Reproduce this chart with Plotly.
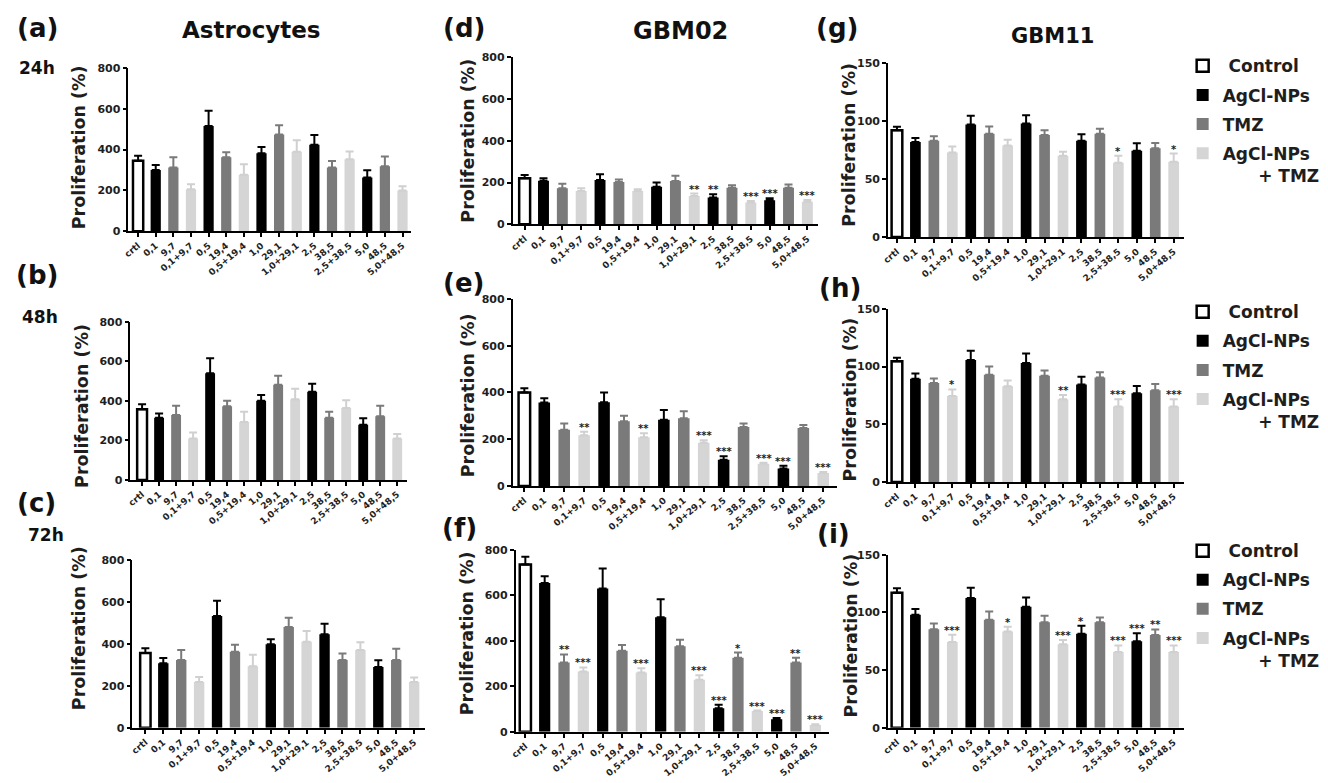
import plotly.graph_objects as go

W, H = 1328, 783

categories = ["crtl", "0,1", "9,7", "0,1+9,7", "0,5", "19,4", "0,5+19,4", "1,0",
              "29,1", "1,0+29,1", "2,5", "38,5", "2,5+38,5", "5,0", "48,5", "5,0+48,5"]
series_names = ["\u00a0Control", "AgCl-NPs", "TMZ",
                "AgCl-NPs<br>\u00a0\u00a0\u00a0\u00a0\u00a0\u00a0+ TMZ"]
series_of_category = [0, 1, 2, 3, 1, 2, 3, 1, 2, 3, 1, 2, 3, 1, 2, 3]

astro_24h_mean = [345, 300, 312, 205, 515, 362, 276, 382, 474, 389, 424, 312, 353, 263, 318, 200]
astro_24h_err = [25, 25, 50, 25, 75, 25, 52, 30, 45, 57, 47, 32, 37, 36, 48, 20]
astro_48h_mean = [357, 314, 329, 210, 540, 372, 293, 400, 481, 408, 446, 314, 364, 279, 322, 210]
astro_48h_err = [26, 22, 46, 30, 75, 28, 52, 30, 46, 53, 40, 31, 39, 33, 53, 23]
astro_72h_mean = [356, 307, 323, 218, 532, 362, 293, 398, 479, 410, 445, 323, 370, 289, 323, 218]
astro_72h_err = [23, 25, 47, 24, 73, 33, 55, 23, 45, 50, 50, 30, 37, 32, 53, 21]

gbm02_24h_mean = [220, 209, 172, 160, 212, 203, 160, 180, 207, 135, 128, 175, 105, 115, 175, 108]
gbm02_24h_err = [16, 11, 22, 12, 28, 12, 8, 20, 25, 12, 16, 12, 6, 10, 15, 8]
gbm02_48h_mean = [400, 357, 240, 217, 358, 277, 208, 283, 290, 185, 112, 252, 95, 75, 248, 55]
gbm02_48h_err = [18, 18, 27, 15, 42, 23, 17, 42, 30, 10, 15, 15, 4, 11, 13, 5]
gbm02_72h_mean = [735, 654, 305, 265, 630, 356, 260, 503, 376, 229, 103, 325, 91, 55, 305, 30]
gbm02_72h_err = [35, 30, 35, 18, 88, 25, 19, 80, 29, 19, 16, 23, 2, 5, 20, 3]

gbm11_24h_mean = [92, 82, 83, 73, 97, 89, 79, 98, 88, 70, 83, 89, 64, 74.5, 76.5, 65]
gbm11_24h_err = [3, 3.5, 4, 5, 7.5, 6.3, 5, 7, 4, 3.5, 5.7, 4.3, 6, 6.3, 4.6, 7]
gbm11_48h_mean = [104.6, 89.4, 85.7, 74.5, 105.7, 93, 83, 103, 92, 71.6, 84.5, 90.5, 65.3, 76.8, 79.4, 65.3]
gbm11_48h_err = [3, 4.6, 4, 5.7, 8, 7, 5, 8.3, 4.6, 3.8, 6.6, 4.6, 6.3, 6.3, 5.4, 6.3]
gbm11_72h_mean = [117, 98, 85.5, 74.4, 112.6, 93.7, 83.4, 105, 91.4, 72.5, 81.6, 91.4, 65.7, 75, 80.4, 65.7]
gbm11_72h_err = [4, 5, 5, 6.3, 8.7, 7, 4.3, 8, 5.7, 3.7, 6.9, 4.3, 5.7, 7, 4.9, 5.7]

no_sig = [""] * 16
gbm02_24h_sig = ["", "", "", "", "", "", "", "", "", "**", "**", "", "***", "***", "", "***"]
gbm02_48h_sig = ["", "", "", "**", "", "", "**", "", "", "***", "***", "", "***", "***", "", "***"]
gbm02_72h_sig = ["", "", "**", "***", "", "", "***", "", "", "***", "***", "*", "***", "***", "**", "***"]
gbm11_24h_sig = ["", "", "", "", "", "", "", "", "", "", "", "", "*", "", "", "*"]
gbm11_48h_sig = ["", "", "", "*", "", "", "", "", "", "**", "", "", "***", "", "", "***"]
gbm11_72h_sig = ["", "", "", "***", "", "", "*", "", "", "***", "*", "", "***", "***", "**", "***"]

# styles
fill_colors = ["#ffffff", "#000000", "#7a7a7a", "#d5d5d5"]
err_colors = ["#000000", "#000000", "#7a7a7a", "#d0d0d0"]
FONT = "DejaVu Sans"
TXT = "#1e1e1e"

# panel layout in pixels: x0, x1, first cat x, last cat x, top y, bottom y, ymax, dtick
panels = [
    (astro_24h_mean, astro_24h_err, no_sig, 123, 407, 132.7, 398.3, 63, 229, 800, 200),
    (astro_48h_mean, astro_48h_err, no_sig, 125, 403, 136.7, 393, 321, 482, 800, 200),
    (astro_72h_mean, astro_72h_err, no_sig, 127, 421, 140, 410, 563, 734, 800, 200),
    (gbm02_24h_mean, gbm02_24h_err, gbm02_24h_sig, 509, 816, 521, 805, 52, 222, 800, 200),
    (gbm02_48h_mean, gbm02_48h_err, gbm02_48h_sig, 509, 835, 520.7, 821, 298, 488, 800, 200),
    (gbm02_72h_mean, gbm02_72h_err, gbm02_72h_sig, 512, 827, 521.7, 813, 553, 738, 800, 200),
    (gbm11_24h_mean, gbm11_24h_err, gbm11_24h_sig, 886, 1183, 895, 1173, 58, 235, 150, 50),
    (gbm11_48h_mean, gbm11_48h_err, gbm11_48h_sig, 886, 1183, 895, 1173, 308, 484, 150, 50),
    (gbm11_72h_mean, gbm11_72h_err, gbm11_72h_sig, 886, 1183, 895, 1173, 558, 734, 150, 50),
]
ytitle_pos = [(73, 144), (77, 407), (74, 633), (464, 137), (465, 396), (463, 638),
              (846, 141), (848, 400), (849, 640)]
legend_for_panel = {6: "legend", 7: "legend2", 8: "legend3"}


def px(x):
    return x / W


def py(y):
    return 1 - y / H


fig = go.Figure()
layout = {}
annotations = []

for p, (mean, err, sig, x0, x1, first, last, top, bot, ymax, dtick) in enumerate(panels):
    sfx = "" if p == 0 else str(p + 1)
    xa, ya = "x" + sfx, "y" + sfx
    step = (last - first) / 15.0
    r0 = -(first - x0) / step
    r1 = 15 + (x1 - last) / step
    for s in range(4):
        idx = [k for k in range(16) if series_of_category[k] == s]
        leg = legend_for_panel.get(p)
        fig.add_trace(go.Bar(
            x=[categories[k] for k in idx],
            y=[mean[k] for k in idx],
            name=series_names[s],
            legendgroup="s%d" % s,
            showlegend=leg is not None,
            legend=leg if leg else "legend",
            width=0.58,
            marker=dict(color=fill_colors[s],
                        line=dict(color="#000000", width=2.5 if s == 0 else 0)),
            error_y=dict(type="data", symmetric=False,
                         array=[err[k] for k in idx],
                         arrayminus=[0] * len(idx),
                         color=err_colors[s], thickness=2, width=4),
            xaxis=xa, yaxis=ya,
            hovertemplate="%{x}: %{y}<extra></extra>",
        ))
    layout["xaxis" + sfx] = dict(
        domain=[px(x0), px(x1)], anchor=ya, type="category",
        categoryorder="array", categoryarray=categories, range=[r0, r1],
        showline=True, linecolor="#000000", linewidth=1.6,
        ticks="outside", ticklen=4, tickwidth=1.5, tickcolor="#000000",
        tickangle=-40, showgrid=False, zeroline=False,
        tickfont=dict(family=FONT, size=9, color=TXT, weight="bold"),
    )
    layout["yaxis" + sfx] = dict(
        domain=[py(bot), py(top)], anchor=xa, range=[0, ymax], dtick=dtick,
        showline=True, linecolor="#000000", linewidth=1.6,
        ticks="outside", ticklen=4, tickwidth=1.5, tickcolor="#000000",
        showgrid=False, zeroline=False,
        tickfont=dict(family=FONT, size=11, color=TXT, weight="bold"),
    )
    # significance stars
    for k in range(16):
        if sig[k]:
            annotations.append(dict(
                x=categories[k], y=mean[k] + err[k], xref=xa, yref=ya,
                text=sig[k], showarrow=False, xanchor="center", yanchor="bottom",
                yshift=-3, font=dict(family=FONT, size=10, color=TXT, weight="bold"),
            ))
    tx, ty = ytitle_pos[p]
    annotations.append(dict(
        x=px(tx), y=py(ty), xref="paper", yref="paper", text="Proliferation (%)",
        textangle=-90, showarrow=False, xanchor="center", yanchor="middle",
        font=dict(family=FONT, size=17.5, color=TXT, weight="bold"),
    ))

# panel letters, row labels and column titles
texts = [
    ("(a)", 32, 22, 26), ("(b)", 31, 274, 26), ("(c)", 31, 505, 26),
    ("(d)", 460, 22, 26), ("(e)", 460, 282, 26), ("(f)", 456, 531, 26),
    ("(g)", 835, 22, 26), ("(h)", 838, 287, 26), ("(i)", 831, 537, 26),
    ("24h", 31, 63, 17), ("48h", 34, 316, 17), ("72h", 40, 538, 17),
    ("Astrocytes", 247, 24, 23), ("GBM02", 678, 25, 24), ("GBM11", 1051, 31, 21),
]
for t, x, y, s in texts:
    annotations.append(dict(
        x=px(x), y=py(y), xref="paper", yref="paper", text=t, showarrow=False,
        xanchor="center", yanchor="middle",
        font=dict(family=FONT, size=s, color="#111111", weight="bold"),
    ))

legend_style = dict(
    x=px(1182), xanchor="left", yanchor="top", bgcolor="rgba(0,0,0,0)",
    font=dict(family=FONT, size=17, color=TXT, weight="bold"),
    tracegroupgap=4, valign="top", itemclick="toggleothers",
)
layout["legend"] = dict(legend_style, y=py(43))
layout["legend2"] = dict(legend_style, y=py(293))
layout["legend3"] = dict(legend_style, y=py(536))

fig.update_layout(
    width=W, height=H, autosize=False,
    margin=dict(l=0, r=0, t=0, b=0),
    paper_bgcolor="#ffffff", plot_bgcolor="#ffffff",
    barmode="overlay", bargap=0.4,
    annotations=annotations,
    **layout,
)

fig.write_html(
    "out.html",
    config={"displayModeBar": False},
    post_script="document.body.style.margin='0px';document.body.style.overflow='hidden';",
)
